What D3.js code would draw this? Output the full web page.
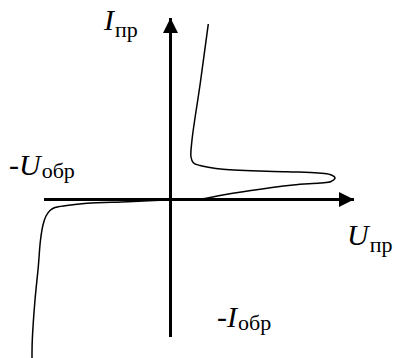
<!DOCTYPE html>
<html>
<head>
<meta charset="utf-8">
<script src="https://cdn.jsdelivr.net/npm/d3@7"></script>
<style>
  body { margin: 0; background: #fff; }
  text { font-family: "Liberation Serif", "DejaVu Serif", serif; fill: #000; }
</style>
</head>
<body>
<div id="chart"></div>
<script>
// Curve of the diode characteristic (arbitrary units, origin at 0,0)
var curveU = [3.78, 2.95, 2.15, 2.05, 2.28, 2.95, 5.25, 11.65, 14.75, 15.95, 16.45, 16.05, 14.95, 12.25, 7.25, 4.95, 3.45, 1.45, 0,
              -4.25, -8.35, -10.38, -11.55, -12.05, -12.45, -12.75, -13.0, -13.22, -13.55, -13.82, -13.85];
var curveI = [17.55, 11.45, 5.95, 4.25, 3.68, 3.4, 3.02, 2.78, 2.65, 2.5, 2.15, 1.8, 1.65, 1.45, 0.78, 0.4, 0.1, 0.02, -0.03,
              -0.22, -0.38, -0.6, -0.8, -1.1, -1.65, -2.55, -4.05, -6.72, -10.05, -14.05, -15.85];

// Axis extents
var uRange = [-12.65, 18.35];
var iRange = [-13.75, 18.15];

// Label texts
var labelMain = ["I", "-U", "U", "-I"];
var labelSub = ["пр", "обр", "пр", "обр"];

var width = 395, height = 358;

var svg = d3.select("#chart")
    .append("svg")
    .attr("width", width)
    .attr("height", height);

var x = d3.scaleLinear().domain(uRange).range([44, 354]);
var y = d3.scaleLinear().domain(iRange).range([337, 18]);

var defs = svg.append("defs");
defs.append("marker")
    .attr("id", "arrow")
    .attr("viewBox", "0 0 10 10")
    .attr("refX", 10)
    .attr("refY", 5)
    .attr("markerUnits", "userSpaceOnUse")
    .attr("markerWidth", 15)
    .attr("markerHeight", 15)
    .attr("orient", "auto")
    .append("path")
    .attr("d", "M0,0 L10,5 L0,10 Z")
    .attr("fill", "#000");

//X axis
svg.append("line")
    .attr("x1", x(uRange[0]))
    .attr("x2", x(uRange[1]))
    .attr("y1", y(0))
    .attr("y2", y(0))
    .attr("stroke", "#000")
    .attr("stroke-width", 3)
    .attr("marker-end", "url(#arrow)");

//Y axis
svg.append("line")
    .attr("x1", x(0))
    .attr("x2", x(0))
    .attr("y1", y(iRange[0]))
    .attr("y2", y(iRange[1]))
    .attr("stroke", "#000")
    .attr("stroke-width", 3)
    .attr("marker-end", "url(#arrow)");

// Curve
var pts = curveU.map(function (u, k) { return [u, curveI[k]]; });
var line = d3.line()
    .x(function (d) { return x(d[0]); })
    .y(function (d) { return y(d[1]); })
    .curve(d3.curveCatmullRom.alpha(0.5));

svg.append("path")
    .datum(pts)
    .attr("d", line)
    .attr("fill", "none")
    .attr("stroke", "#000")
    .attr("stroke-width", 1.5);

// Labels: position (left, baseline) and subscript drop
var labelPos = [[104, 30, 7], [9, 175, 3], [347, 245, 7], [217, 327, 3]];

labelMain.forEach(function (m, k) {
    var t = svg.append("text")
        .attr("x", labelPos[k][0])
        .attr("y", labelPos[k][1]);
    t.append("tspan")
        .style("font-style", "italic")
        .style("font-size", "30px")
        .text(m);
    t.append("tspan")
        .attr("dx", 1)
        .attr("dy", labelPos[k][2])
        .style("font-size", "22px")
        .text(labelSub[k]);
});
</script>
</body>
</html>
